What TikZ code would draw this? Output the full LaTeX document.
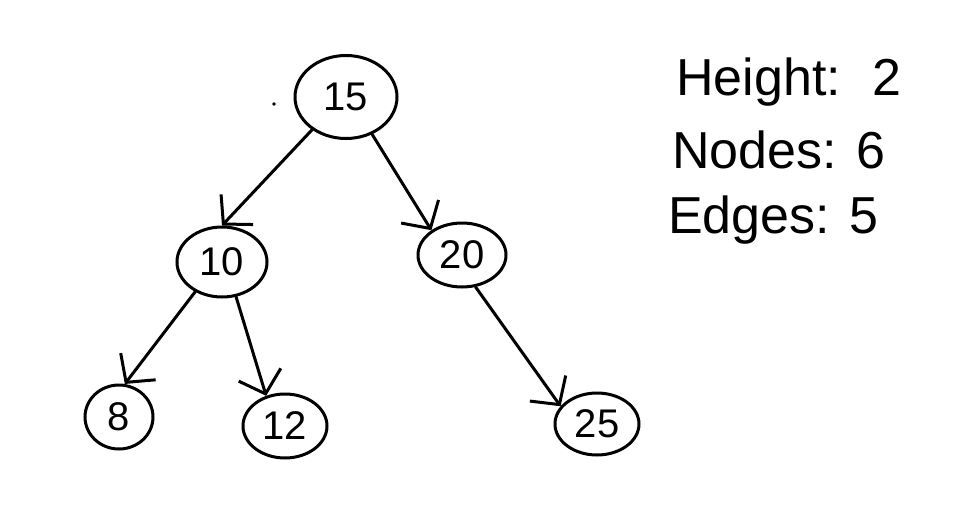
\documentclass[tikz,border=0pt]{standalone}
\usepackage{fontspec}
\setmainfont{Liberation Sans}
\usepackage{tikz}
\usetikzlibrary{arrows.meta,shapes.geometric}

\begin{document}
\begin{tikzpicture}[x=1pt,y=-1pt,
    tnode/.style={ellipse, draw, line width=3pt, inner sep=0pt, font=\fontsize{40}{46}\selectfont},
    edge/.style={line width=3pt, line cap=round, -{Straight Barb[length=20pt,width=44pt,line width=3pt]}},
    info/.style={anchor=base west, inner sep=0pt, font=\fontsize{52}{60}\selectfont}]
% Fix the page size
\useasboundingbox (0,0) rectangle (979,514);

% Draw the tree nodes
\node[tnode, minimum width=102, minimum height=83] (n15) at (346,97) {15};
\node[tnode, minimum width=90, minimum height=70] (n10) at (222,262) {10};
\node[tnode, minimum width=88, minimum height=64] (n20) at (462,255) {20};
\node[tnode, minimum width=68, minimum height=64] (n8) at (119,417) {8};
\node[tnode, minimum width=84, minimum height=64] (n12) at (285,426) {12};
\node[tnode, minimum width=84, minimum height=62] (n25) at (597,424) {25};

% Stray pen mark left of the root
\fill (274,104) circle (1.8);

% Draw the edges from parent to child
\foreach \from/\to in {n15.224/n10.north, n15.305/n20.141, n10.228/n8.80, n10.292/n12.122, n20.293/n25.154} {
    \draw[edge] (\from) -- (\to);
}

% Add the tree facts on the right
\node[info] (height) at (676,95) {Height:\hspace{0.6em}2};
\node[info] (nodes) at (672,168) {Nodes: 6};
\node[info] (edges) at (668,233) {Edges: 5};

\end{tikzpicture}
\end{document}
